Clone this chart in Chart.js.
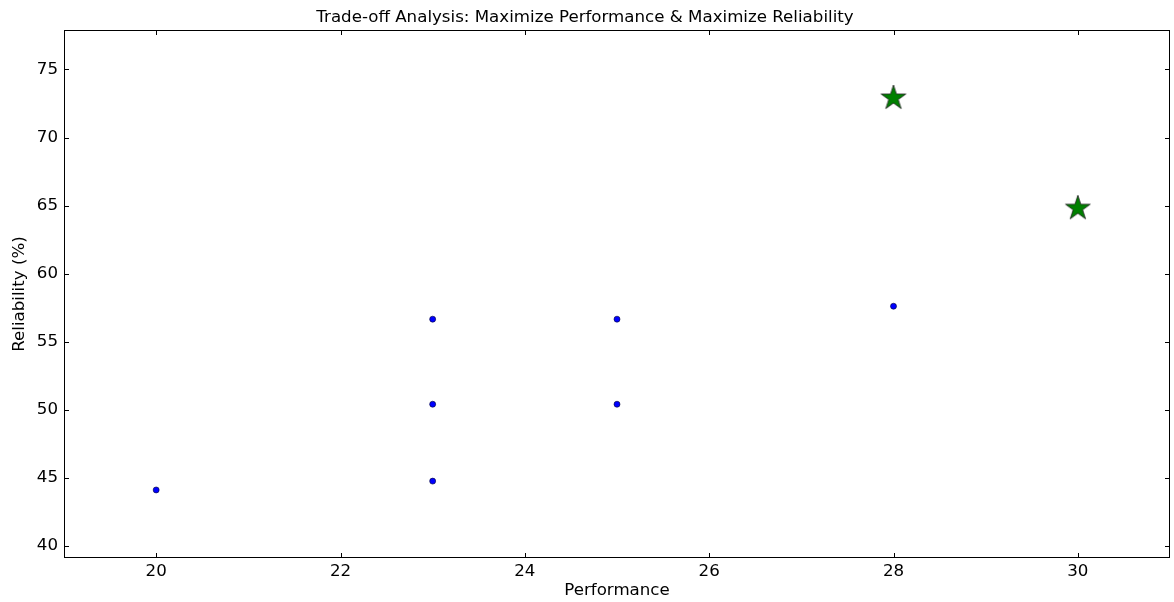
<!DOCTYPE html>
<html>
<head>
<meta charset="utf-8">
<script src="https://cdn.jsdelivr.net/npm/chart.js@4.4.1/dist/chart.umd.min.js"></script>
<style>
  html, body { margin: 0; padding: 0; background: #ffffff; }
  #wrap { width: 1174px; height: 602px; }
</style>
</head>
<body>
<div id="wrap"><canvas id="c" width="1174" height="602"></canvas></div>
<script>
// ---- Data ----
const performance = [20, 23, 23, 23, 25, 25, 28];
const reliability = [44.1, 44.75, 50.4, 56.65, 50.4, 56.65, 57.6];
const paretoPerformance = [28, 30];
const paretoReliability = [72.9, 64.8];
const xTicks = [20, 22, 24, 26, 28, 30];
const yTicks = [40, 45, 50, 55, 60, 65, 70, 75];
const xLimits = [19, 31];
const yLimits = [39.1, 77.9];
const titleText = 'Trade-off Analysis: Maximize Performance & Maximize Reliability';
const xLabel = 'Performance';
const yLabel = 'Reliability (%)';

const FONT = 'DejaVu Sans';
const FS = 16.67;

// star marker image
function makeStar(R, fill, stroke) {
  const size = Math.ceil(R * 2 + 4);
  const cv = document.createElement('canvas');
  cv.width = size; cv.height = size;
  const g = cv.getContext('2d');
  const cx = size / 2, cy = size / 2;
  const r = R * 0.381966;
  g.beginPath();
  for (let i = 0; i < 10; i++) {
    const rad = i % 2 === 0 ? R : r;
    const a = -Math.PI / 2 + i * Math.PI / 5;
    const px = cx + rad * Math.cos(a), py = cy + rad * Math.sin(a);
    if (i === 0) g.moveTo(px, py); else g.lineTo(px, py);
  }
  g.closePath();
  g.fillStyle = fill; g.fill();
  g.lineWidth = 0.8; g.strokeStyle = stroke; g.stroke();
  return cv;
}
const starImg = makeStar(13, '#008000', '#1a1a1a');

const frameTicks = {
  id: 'frameTicks',
  afterDatasetsDraw(chart) {
    const {ctx, chartArea: a, scales: {x, y}} = chart;
    ctx.save();
    ctx.strokeStyle = '#000';
    ctx.lineWidth = 1;
    const L = 5;
    ctx.beginPath();
    xTicks.forEach(v => {
      const px = Math.round(x.getPixelForValue(v)) + 0.5;
      ctx.moveTo(px, a.bottom); ctx.lineTo(px, a.bottom - L);
      ctx.moveTo(px, a.top); ctx.lineTo(px, a.top + L);
    });
    yTicks.forEach(v => {
      const py = Math.round(y.getPixelForValue(v)) + 0.5;
      ctx.moveTo(a.left, py); ctx.lineTo(a.left + L, py);
      ctx.moveTo(a.right, py); ctx.lineTo(a.right - L, py);
    });
    ctx.stroke();
    ctx.strokeRect(Math.round(a.left) + 0.5, Math.round(a.top) + 0.5,
                   Math.round(a.right - a.left) - 1, Math.round(a.bottom - a.top) - 1);
    ctx.restore();
  }
};

new Chart(document.getElementById('c'), {
  type: 'scatter',
  data: {
    datasets: [
      {
        label: 'Solutions',
        data: performance.map((v, i) => ({x: v, y: reliability[i]})),
        pointRadius: 3,
        pointHoverRadius: 3,
        backgroundColor: '#0000ff',
        borderColor: '#000033',
        borderWidth: 0.6
      },
      {
        label: 'Pareto',
        data: paretoPerformance.map((v, i) => ({x: v, y: paretoReliability[i]})),
        pointStyle: starImg,
        pointRadius: 13,
        pointHoverRadius: 13
      }
    ]
  },
  options: {
    responsive: false,
    devicePixelRatio: 1,
    animation: false,
    events: [],
    layout: { autoPadding: false, padding: { left: 0, right: 4, top: 0, bottom: 0 } },
    plugins: {
      legend: { display: false },
      tooltip: { enabled: false },
      title: {
        display: true,
        text: titleText,
        color: '#000',
        font: { family: FONT, size: FS, weight: 'normal', lineHeight: 1.2 },
        padding: { top: 8, bottom: 2 }
      }
    },
    scales: {
      x: {
        type: 'linear',
        min: xLimits[0], max: xLimits[1],
        afterBuildTicks: s => { s.ticks = xTicks.map(v => ({value: v})); },
        afterFit: s => { s.height = 44; s.paddingLeft = 0; s.paddingRight = 0; },
        grid: { display: false, drawTicks: false },
        border: { display: false },
        ticks: { color: '#000', font: { family: FONT, size: FS }, padding: 4, maxRotation: 0 },
        title: { display: true, text: xLabel, color: '#000', font: { family: FONT, size: FS }, padding: { top: 0, bottom: 1 } }
      },
      y: {
        type: 'linear',
        min: yLimits[0], max: yLimits[1],
        afterBuildTicks: s => { s.ticks = yTicks.map(v => ({value: v})); },
        afterFit: s => { s.width = 64; s.paddingTop = 0; s.paddingBottom = 0; },
        grid: { display: false, drawTicks: false },
        border: { display: false },
        ticks: { color: '#000', font: { family: FONT, size: FS }, padding: 6 },
        title: { display: true, text: yLabel, color: '#000', font: { family: FONT, size: FS }, padding: { top: 10, bottom: 0 } }
      }
    }
  },
  plugins: [frameTicks]
});
</script>
</body>
</html>
